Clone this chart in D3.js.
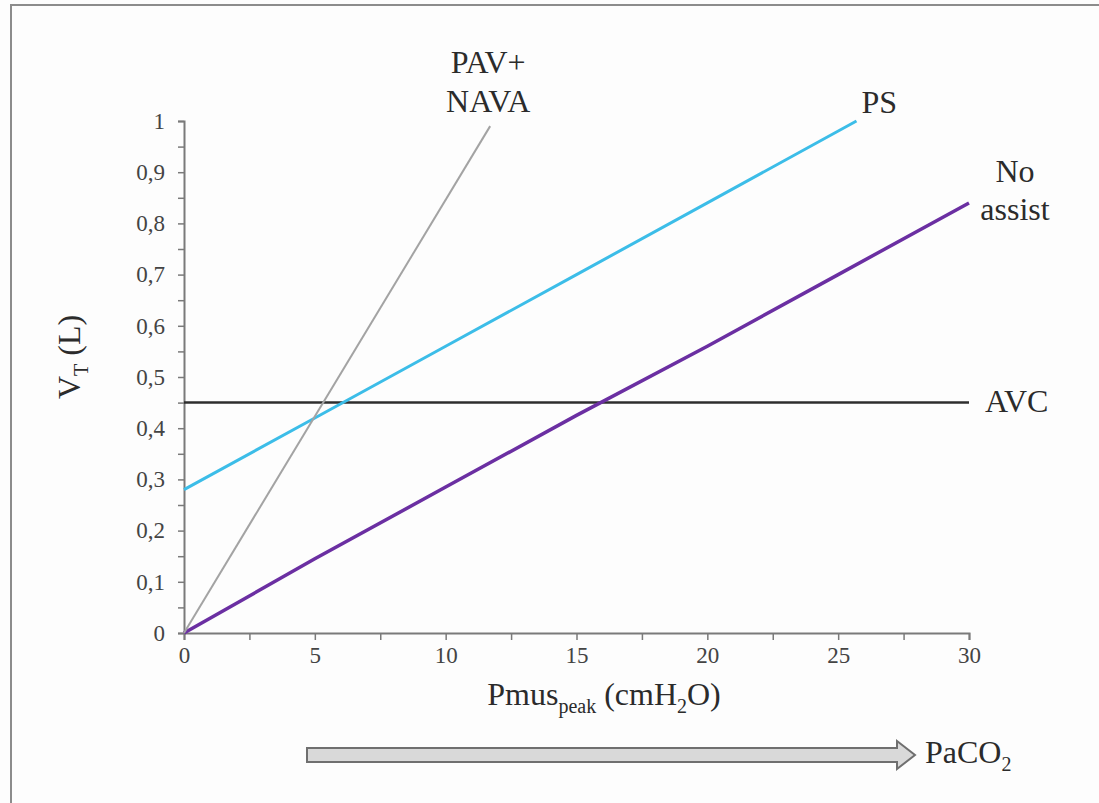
<!DOCTYPE html>
<html>
<head>
<meta charset="utf-8">
<script src="https://cdn.jsdelivr.net/npm/d3@7"></script>
<style>
    html, body { margin: 0; padding: 0; background: #fdfdfd; }
    svg { display: block; font-family: "Liberation Serif", "DejaVu Serif", serif; }
</style>
</head>
<body>
<svg id="chart" width="1099" height="803"></svg>
<script>
// series data (Pmus peak in cmH2O, VT in L)
const noAssistX = [0, 5, 10, 15, 20, 25, 30];
const noAssistY = [0, 0.145, 0.285, 0.425, 0.56, 0.70, 0.84];
const psX = [0, 5, 10, 15, 20, 25.7];
const psY = [0.28, 0.42, 0.56, 0.70, 0.84, 1.0];
const navaX = [0, 11.7];
const navaY = [0, 0.99];
const avcX = [0, 30];
const avcY = [0.45, 0.45];

const xTicks = [0, 5, 10, 15, 20, 25, 30];
const xMinor = [2.5, 7.5, 12.5, 17.5, 22.5, 27.5];
const yTicks = [0, 0.1, 0.2, 0.3, 0.4, 0.5, 0.6, 0.7, 0.8, 0.9, 1];
const yMinor = [0.05, 0.15, 0.25, 0.35, 0.45, 0.55, 0.65, 0.75, 0.85, 0.95];

const svg = d3.select('#chart');
const textColor = '#2b2b2b';
const axisColor = '#7a7a7a';

// picture frame (only left and top edge visible)
svg.append('path')
    .attr('d', 'M11,803 L11,5 L1099,5')
    .attr('fill', 'none')
    .attr('stroke', '#8c8c8c')
    .attr('stroke-width', 2);

const x = d3.scaleLinear().domain([0, 30]).range([184, 969]);
const y = d3.scaleLinear().domain([0, 1]).range([633, 121]);

const fmt = d => String(d).replace('.', ',');

// y axis
svg.append('g')
    .attr('transform', `translate(${x(0)},0)`)
    .call(d3.axisLeft(y).tickValues(yTicks).tickFormat(fmt).tickSize(6).tickPadding(13));
svg.append('g')
    .attr('transform', `translate(${x(0)},0)`)
    .call(d3.axisLeft(y).tickValues(yMinor).tickFormat('').tickSize(6))
    .select('.domain').remove();

// x axis
svg.append('g')
    .attr('transform', `translate(0,${y(0)})`)
    .call(d3.axisBottom(x).tickValues(xTicks).tickSize(7).tickPadding(7));
svg.append('g')
    .attr('transform', `translate(0,${y(0)})`)
    .call(d3.axisBottom(x).tickValues(xMinor).tickFormat('').tickSize(7))
    .select('.domain').remove();

svg.selectAll('.domain')
    .attr('stroke', axisColor)
    .attr('stroke-width', 2);
svg.selectAll('.tick line')
    .attr('stroke', axisColor)
    .attr('stroke-width', 1.5);
svg.selectAll('.tick text')
    .attr('fill', '#444')
    .style('font-family', '"Liberation Serif", serif')
    .style('font-size', '23px');

// lines
const line = d3.line().x(d => x(d[0])).y(d => y(d[1]));
const series = [
    { xs: avcX, ys: avcY, color: '#2e2e2e', width: 2.5 },
    { xs: noAssistX, ys: noAssistY, color: '#6b2fa2', width: 3.5 },
    { xs: psX, ys: psY, color: '#3cbde8', width: 3 },
    { xs: navaX, ys: navaY, color: '#a3a3a3', width: 2 }
];
series.forEach(s => {
    svg.append('path')
        .datum(d3.zip(s.xs, s.ys))
        .attr('d', line)
        .attr('fill', 'none')
        .attr('stroke', s.color)
        .attr('stroke-width', s.width);
});

// line labels
const labelSize = '32px';
function label(px, py, txt, anchor) {
    svg.append('text')
        .attr('x', px)
        .attr('y', py)
        .attr('text-anchor', anchor || 'middle')
        .attr('fill', textColor)
        .style('font-size', labelSize)
        .text(txt);
}
const navaEnd = [x(navaX[1]), y(navaY[1])];
label(navaEnd[0] - 2, navaEnd[1] - 53, 'PAV+');
label(navaEnd[0] - 2, navaEnd[1] - 14, 'NAVA');
const psEnd = [x(psX[psX.length - 1]), y(psY[psY.length - 1])];
label(psEnd[0] + 5, psEnd[1] - 8, 'PS', 'start');
const naEnd = [x(30), y(noAssistY[noAssistY.length - 1])];
label(naEnd[0] + 46, naEnd[1] - 21, 'No');
label(naEnd[0] + 46, naEnd[1] + 17, 'assist');
label(x(30) + 16, y(0.45) + 9, 'AVC', 'start');

// axis titles
const xt = svg.append('text')
    .attr('x', 604)
    .attr('y', 705)
    .attr('text-anchor', 'middle')
    .attr('fill', textColor)
    .style('font-size', '32px');
xt.append('tspan').text('Pmus');
xt.append('tspan').attr('dy', 8).style('font-size', '20px').text('peak');
xt.append('tspan').attr('dy', -8).text(' (cmH');
xt.append('tspan').attr('dy', 8).style('font-size', '20px').text('2');
xt.append('tspan').attr('dy', -8).text('O)');

const yt = svg.append('text')
    .attr('transform', 'translate(80,357) rotate(-90)')
    .attr('text-anchor', 'middle')
    .attr('fill', textColor)
    .style('font-size', '32px');
yt.append('tspan').text('V');
yt.append('tspan').attr('dy', 8).style('font-size', '20px').text('T');
yt.append('tspan').attr('dy', -8).text(' (L)');

// PaCO2 arrow
const ax0 = 307, ax1 = 897, tip = 915, ay = 755;
svg.append('path')
    .attr('d', `M${ax0},${ay - 7} L${ax1},${ay - 7} L${ax1},${ay - 14} L${tip},${ay} L${ax1},${ay + 14} L${ax1},${ay + 7} L${ax0},${ay + 7} Z`)
    .attr('fill', '#d9d9d9')
    .attr('stroke', '#6f6f6f')
    .attr('stroke-width', 2)
    .attr('stroke-linejoin', 'miter');

const pc = svg.append('text')
    .attr('x', 925)
    .attr('y', 763)
    .attr('fill', textColor)
    .style('font-size', '32px');
pc.append('tspan').text('PaCO');
pc.append('tspan').attr('dy', 8).style('font-size', '20px').text('2');
</script>
</body>
</html>
